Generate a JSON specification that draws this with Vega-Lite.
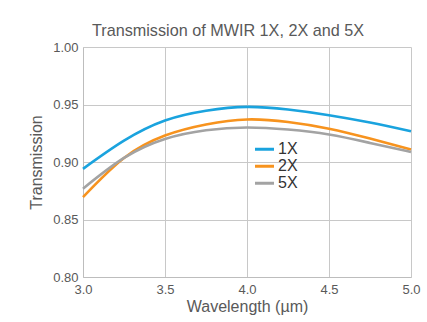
{
  "$schema": "https://vega.github.io/schema/vega-lite/v6.json",
  "autosize": "none",
  "width": 328,
  "height": 230,
  "padding": {"left": 83, "top": 47, "right": 16, "bottom": 45},
  "background": "white",
  "config": {
    "font": "Liberation Sans",
    "view": {"stroke": null},
    "axis": {"gridColor": "#c8c8c8", "domainColor": "#bdbdbd", "ticks": false, "labelColor": "#595959", "titleColor": "#595959", "labelFontSize": 13, "titleFontSize": 16, "titleFontWeight": "normal", "labelFlush": false}
  },
  "title": {"text": "Transmission of MWIR 1X, 2X and 5X", "fontSize": 16.2, "fontWeight": "normal", "color": "#595959", "offset": 2, "dx": -19},
  "data": {"values": [
    {"w": 3.0, "t": 0.894, "s": "1X"}, {"w": 3.25, "t": 0.9185, "s": "1X"}, {"w": 3.5, "t": 0.936, "s": "1X"}, {"w": 3.75, "t": 0.9445, "s": "1X"}, {"w": 4.0, "t": 0.9479, "s": "1X"}, {"w": 4.25, "t": 0.9456, "s": "1X"}, {"w": 4.5, "t": 0.9407, "s": "1X"}, {"w": 4.75, "t": 0.9343, "s": "1X"}, {"w": 5.0, "t": 0.9267, "s": "1X"},
    {"w": 3.0, "t": 0.8695, "s": "2X"}, {"w": 3.25, "t": 0.9035, "s": "2X"}, {"w": 3.5, "t": 0.923, "s": "2X"}, {"w": 3.75, "t": 0.9326, "s": "2X"}, {"w": 4.0, "t": 0.937, "s": "2X"}, {"w": 4.25, "t": 0.9348, "s": "2X"}, {"w": 4.5, "t": 0.929, "s": "2X"}, {"w": 4.75, "t": 0.9204, "s": "2X"}, {"w": 5.0, "t": 0.9108, "s": "2X"},
    {"w": 3.0, "t": 0.8768, "s": "5X"}, {"w": 3.25, "t": 0.9035, "s": "5X"}, {"w": 3.5, "t": 0.920, "s": "5X"}, {"w": 3.75, "t": 0.9276, "s": "5X"}, {"w": 4.0, "t": 0.930, "s": "5X"}, {"w": 4.25, "t": 0.9282, "s": "5X"}, {"w": 4.5, "t": 0.9239, "s": "5X"}, {"w": 4.75, "t": 0.9166, "s": "5X"}, {"w": 5.0, "t": 0.9087, "s": "5X"}
  ]},
  "mark": {"type": "line", "strokeWidth": 2.6, "interpolate": "natural"},
  "encoding": {
    "x": {"field": "w", "type": "quantitative", "title": "Wavelength (µm)", "scale": {"domain": [3, 5]}, "axis": {"values": [3, 3.5, 4, 4.5, 5], "format": ".1f", "labelPadding": 6, "titlePadding": 2}},
    "y": {"field": "t", "type": "quantitative", "title": "Transmission", "scale": {"domain": [0.8, 1.0]}, "axis": {"values": [0.8, 0.85, 0.9, 0.95, 1.0], "format": ".2f", "labelPadding": 5, "titlePadding": 8}},
    "color": {"field": "s", "type": "nominal", "title": null,
      "scale": {"domain": ["1X", "2X", "5X"], "range": ["#1aa3de", "#f7931e", "#a3a3a3"]},
      "legend": {"orient": "none", "legendX": 172, "legendY": 95, "symbolType": "M-2,0H2", "symbolSize": 121, "symbolStrokeWidth": 3, "labelFontSize": 16, "labelColor": "#333333", "rowPadding": 0, "clipHeight": 14.7, "labelOffset": 7, "padding": 0}}
  }
}
